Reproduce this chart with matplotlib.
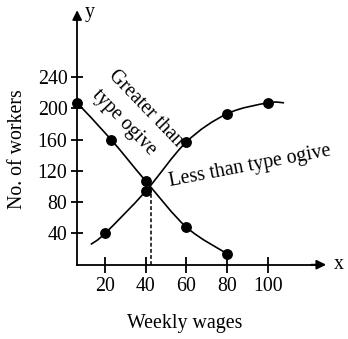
import numpy as np
import matplotlib.pyplot as plt
from matplotlib.path import Path
from matplotlib.patches import PathPatch

plt.rcParams['font.family'] = ['Liberation Serif', 'DejaVu Serif']

# data
less_x = [20, 40, 60, 80, 100]
less_y = [40, 94, 157, 193, 207]
less_start = (13, 26)
less_end = (108, 207)

greater_x = [6.3, 23, 40, 60, 80]
greater_y = [207, 160, 107, 48, 14]

x_ticks = [20, 40, 60, 80, 100]
y_ticks = [40, 80, 120, 160, 200, 240]

median_x = 42.5
median_y = 99


def smooth_path(xs, ys):
    # catmull-rom control points -> cubic bezier path
    pts = np.column_stack([xs, ys]).astype(float)
    verts = [pts[0]]
    codes = [Path.MOVETO]
    n = len(pts)
    for i in range(n - 1):
        p0 = pts[max(i - 1, 0)]
        p1 = pts[i]
        p2 = pts[i + 1]
        p3 = pts[min(i + 2, n - 1)]
        c1 = p1 + (p2 - p0) / 6
        c2 = p2 - (p3 - p1) / 6
        verts += [c1, c2, p2]
        codes += [Path.CURVE4] * 3
    return Path(verts, codes)


fig = plt.figure(figsize=(3.48, 3.39), dpi=100)
ax = fig.add_axes([0, 0, 1, 1])
ax.set_xlim(-31.6, 139.4)
ax.set_ylim(-95, 338.5)

for s in ['top', 'right']:
    ax.spines[s].set_visible(False)
ax.spines['left'].set_position(('data', greater_x[0]))
ax.spines['bottom'].set_position(('data', 0))
ax.spines['left'].set_bounds(0, 318)
ax.spines['bottom'].set_bounds(greater_x[0], 124)
for s in ['left', 'bottom']:
    ax.spines[s].set_linewidth(1.3)

ax.annotate('', xy=(greater_x[0], 329), xytext=(greater_x[0], 310),
            arrowprops=dict(arrowstyle='-|>', lw=1.3, color='black', mutation_scale=14))
ax.annotate('', xy=(130, 0), xytext=(120, 0),
            arrowprops=dict(arrowstyle='-|>', lw=1.3, color='black', mutation_scale=14))

ax.set_xticks(x_ticks)
ax.set_yticks(y_ticks)
ax.tick_params(axis='x', direction='inout', length=11, width=1.3, labelsize=14.3, pad=3.5)
ax.tick_params(axis='y', direction='inout', length=9, width=1.3, labelsize=14.3, pad=2.5)

# curves
lx = [less_start[0]] + less_x + [less_end[0]]
ly = [less_start[1]] + less_y + [less_end[1]]
ax.add_patch(PathPatch(smooth_path(lx, ly), fill=False, lw=1.2, color='black'))
ax.add_patch(PathPatch(smooth_path(greater_x, greater_y), fill=False, lw=1.2, color='black'))
ax.plot(less_x, less_y, 'o', color='black', ms=6.8, clip_on=False)
ax.plot(greater_x, greater_y, 'o', color='black', ms=6.8, clip_on=False)

ax.plot([median_x, median_x], [0, median_y], ls=(0, (2.5, 1.5)), color='black', lw=1.1)

ax.text(12.3, 322, 'y', fontsize=14.3, ha='center', va='center')
ax.text(132.5, 0, 'x', fontsize=14.3, ha='left', va='center')
ax.text(59, -75, 'Weekly wages', fontsize=14.3, ha='center', va='center')
ax.text(-23, 148, 'No. of workers', fontsize=14.3, ha='center', va='center', rotation=90)

ax.text(26.5, 254, 'Greater than', fontsize=14.3, ha='left', va='top',
        rotation=-46, rotation_mode='anchor')
ax.text(18.5, 229, 'type ogive', fontsize=14.3, ha='left', va='top',
        rotation=-46, rotation_mode='anchor')
ax.text(51.9, 100, 'Less than type ogive', fontsize=14.3, ha='left', va='baseline',
        rotation=10.8, rotation_mode='anchor')

fig.savefig('out.png', dpi=100)
